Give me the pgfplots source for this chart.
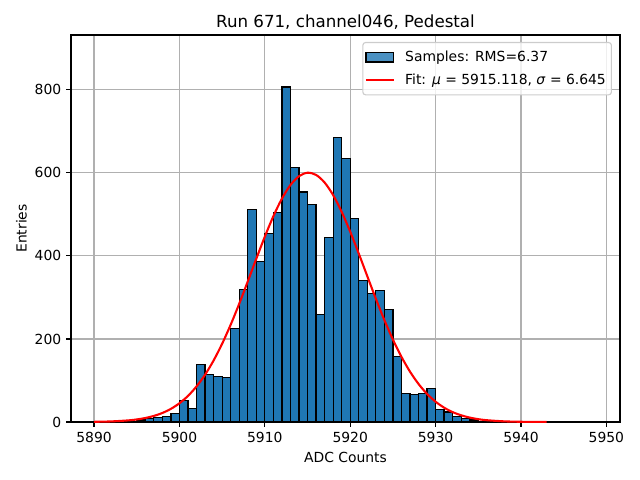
\documentclass[border=0pt]{standalone}
\usepackage{fontspec}
\setmainfont{DejaVu Sans}
\usepackage{pgfplots}
\pgfplotsset{compat=1.18}
\definecolor{mplblue}{HTML}{1F77B4}
\definecolor{gridgray}{HTML}{B0B0B0}
\definecolor{legframe}{HTML}{CCCCCC}
\begin{document}
\begin{tikzpicture}
\useasboundingbox (0,0) rectangle (460.8pt,345.6pt);
\begin{axis}[
  name=ax,
  at={(51.12pt,41.76pt)}, anchor=south west,
  scale only axis, width=395.28pt, height=278.64pt,
  xmin=5887.3, xmax=5951.6, ymin=0, ymax=932,
  xtick={5890,5900,5910,5920,5930,5940,5950},
  ytick={0,200,400,600,800},
  grid=major, major grid style={gridgray, line width=0.8pt},
  axis line style={line width=0.8pt},
  tick align=outside, major tick length=3.5pt,
  tick style={black, line width=0.8pt},
  xtick pos=left, ytick pos=left,
  /pgf/number format/assume math mode=true,
  /pgf/number format/1000 sep={},
  tick label style={font=\fontsize{10}{12}\selectfont},
  label style={font=\fontsize{10}{12}\selectfont},
  ylabel style={yshift=-1.2pt},
  xlabel={ADC Counts}, ylabel={Entries},
  legend cell align=left,
  legend style={at={(1,1)}, anchor=north east, xshift=-5.8pt, yshift=-5pt,
    draw=legframe, line width=0.8pt, rounded corners=2pt, fill=white, fill opacity=0.8, text opacity=1,
    font=\fontsize{10}{12}\selectfont, inner xsep=1.5pt, inner ysep=3pt,
    nodes={inner xsep=2.5pt, inner ysep=3pt}, column sep=5pt, row sep=1.5pt},
]
\addplot[ybar, bar width=1, bar shift=0pt, fill=mplblue, draw=black, line width=0.9pt,
  legend image code/.code={\draw[sharp corners, fill=mplblue, draw=black, line width=0.9pt] (0pt,-3.5pt) rectangle (20pt,3.5pt);}]
coordinates {
(5893.5,1) (5894.5,2) (5895.5,5) (5896.5,8) (5897.5,10) (5898.5,14) (5899.5,21)
(5900.5,52) (5901.5,33) (5902.5,139) (5903.5,114) (5904.5,110) (5905.5,107)
(5906.5,225) (5907.5,319) (5908.5,512) (5909.5,387) (5910.5,454) (5911.5,504)
(5912.5,807) (5913.5,613) (5914.5,554) (5915.5,524) (5916.5,259) (5917.5,444)
(5918.5,685) (5919.5,635) (5920.5,490) (5921.5,341) (5922.5,309) (5923.5,316)
(5924.5,271) (5925.5,157) (5926.5,68) (5927.5,66) (5928.5,68) (5929.5,81)
(5930.5,30) (5931.5,24) (5932.5,14) (5933.5,9) (5934.5,5) (5935.5,2) (5936.5,1)
};
\addlegendentry{Samples: RMS=6.37}
\addplot[red, line width=1.5pt, smooth,
  legend image code/.code={\draw[sharp corners, red, line width=1.5pt] (0pt,0pt) -- (20pt,0pt);}]
coordinates {
(5890,0.47) (5892,1.41) (5894,3.85) (5895,6.14) (5896,9.57) (5897,14.6) (5898,21.7)
(5899,31.7) (5900,45.1) (5901,62.8) (5902,85.6) (5903,113.8) (5904,148.1) (5905,188.4)
(5906,234.2) (5907,284.7) (5908,338.3) (5909,393.0) (5910,446.3) (5911,495.5)
(5912,537.8) (5913,570.7) (5914,591.9) (5915,600.3) (5916,595.1) (5917,576.8)
(5918,546.5) (5919,506.2) (5920,458.4) (5921,405.8) (5922,351.2) (5923,297.1)
(5924,245.7) (5925,198.7) (5926,157.1) (5927,121.4) (5928,91.7) (5929,67.7)
(5930,48.9) (5931,34.5) (5932,23.8) (5933,16.1) (5934,10.6) (5935,6.8) (5936,4.3)
(5938,1.6) (5940,0.54) (5943,0.09)
};
\addlegendentry{Fit: \textit{μ} = 5915.118, \textit{σ} = 6.645}
\end{axis}
\node[font=\fontsize{12}{14}\selectfont, anchor=base, inner sep=0pt] at ([yshift=5.6pt]ax.north) {Run 671, channel046, Pedestal};
\end{tikzpicture}
\end{document}
